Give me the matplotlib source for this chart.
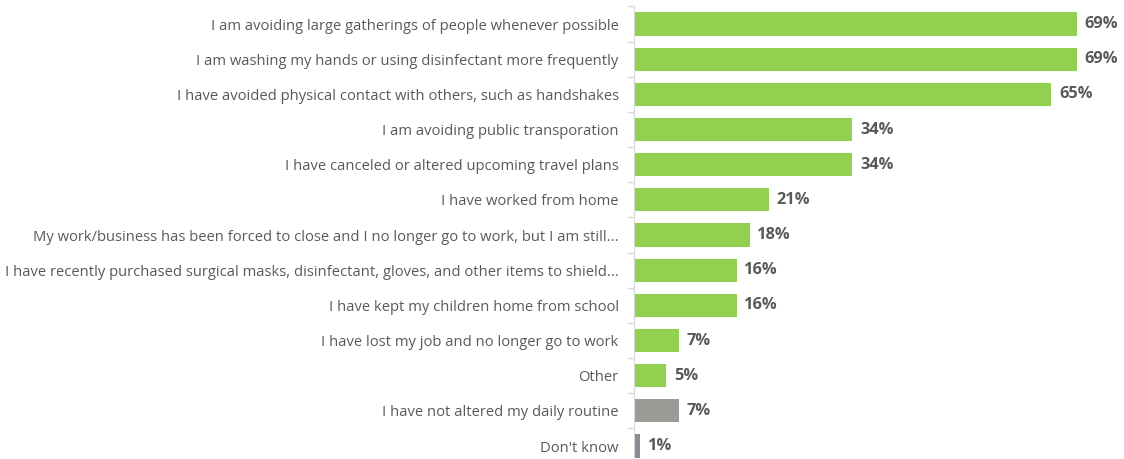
import matplotlib.pyplot as plt
import numpy as np

plt.rcParams['font.family'] = ['Open Sans', 'DejaVu Sans']

categories = [
    "I am avoiding large gatherings of people whenever possible",
    "I am washing my hands or using disinfectant more frequently",
    "I have avoided physical contact with others, such as handshakes",
    "I am avoiding public transporation",
    "I have canceled or altered upcoming travel plans",
    "I have worked from home",
    "My work/business has been forced to close and I no longer go to work, but I am still...",
    "I have recently purchased surgical masks, disinfectant, gloves, and other items to shield...",
    "I have kept my children home from school",
    "I have lost my job and no longer go to work",
    "Other",
    "I have not altered my daily routine",
    "Don't know",
]
values = [69, 69, 65, 34, 34, 21, 18, 16, 16, 7, 5, 7, 1]
colors = ['#92d050'] * 11 + ['#999b96', '#878b93']

fig = plt.figure(figsize=(11.24, 4.59), dpi=100)
ax = fig.add_axes([0.564, -0.01, 0.436, 0.996])

y = np.arange(len(categories))
ax.barh(y, values, height=0.66, color=colors)
ax.set_ylim(len(categories) - 0.5, -0.5)
ax.set_xlim(0, 76.3)

for yi, v in zip(y, values):
    ax.text(v + 1.2, yi, f"{v}%", va='center', ha='left', fontsize=11.8,
            fontweight='bold', color='#595959')

ax.set_yticks(y)
ax.set_yticklabels(categories, fontsize=10.6, color='#595959')
ax.tick_params(axis='y', which='major', length=0, pad=11)
ax.set_yticks(np.arange(-0.5, len(categories), 1), minor=True)
ax.tick_params(axis='y', which='minor', length=5, color='#d9d9d9', width=1)
ax.set_xticks([])
for s in ['top', 'right', 'bottom']:
    ax.spines[s].set_visible(False)
ax.spines['left'].set_color('#d9d9d9')

fig.savefig('out.png', dpi=100)
